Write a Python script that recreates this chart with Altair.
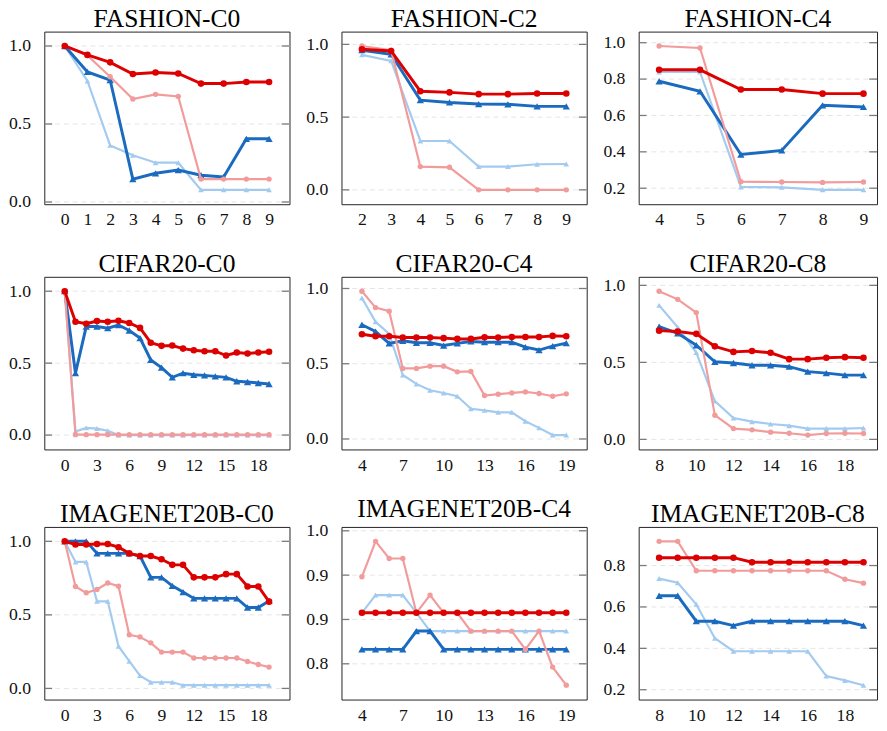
import altair as alt
import pandas as pd

# ---------------- data ----------------
titles = ["FASHION-C0", "FASHION-C2", "FASHION-C4",
          "CIFAR20-C0", "CIFAR20-C4", "CIFAR20-C8",
          "IMAGENET20B-C0", "IMAGENET20B-C4", "IMAGENET20B-C8"]

fashion_c0_x = list(range(0, 10))
fashion_c0_red = [1.0, 0.943, 0.895, 0.82, 0.83, 0.824, 0.759, 0.759, 0.769, 0.769]
fashion_c0_lred = [1.0, 0.94, 0.803, 0.66, 0.69, 0.677, 0.147, 0.147, 0.147, 0.147]
fashion_c0_blue = [1.0, 0.834, 0.782, 0.147, 0.184, 0.205, 0.172, 0.161, 0.405, 0.405]
fashion_c0_lblue = [1.0, 0.776, 0.363, 0.30, 0.252, 0.252, 0.078, 0.078, 0.078, 0.078]

fashion_c2_x = list(range(2, 10))
fashion_c2_red = [0.966, 0.955, 0.678, 0.67, 0.658, 0.658, 0.662, 0.662]
fashion_c2_lred = [0.989, 0.96, 0.16, 0.155, 0.0, 0.0, 0.0, 0.0]
fashion_c2_blue = [0.96, 0.932, 0.617, 0.601, 0.59, 0.588, 0.574, 0.574]
fashion_c2_lblue = [0.928, 0.887, 0.336, 0.336, 0.16, 0.16, 0.176, 0.178]

fashion_c4_x = list(range(4, 10))
fashion_c4_red = [0.851, 0.851, 0.743, 0.743, 0.72, 0.72]
fashion_c4_lred = [0.982, 0.971, 0.236, 0.234, 0.232, 0.234]
fashion_c4_blue = [0.788, 0.733, 0.385, 0.408, 0.656, 0.647]
fashion_c4_lblue = [0.839, 0.839, 0.207, 0.205, 0.191, 0.191]

cifar_c0_x = list(range(0, 20))
cifar_c0_red = [1.0, 0.788, 0.774, 0.793, 0.788, 0.795, 0.779, 0.745, 0.642, 0.62,
                0.622, 0.601, 0.59, 0.583, 0.583, 0.553, 0.574, 0.567, 0.574, 0.579]
cifar_c0_lred = [1.0, 0.003, 0.003, 0.003, 0.003, 0.003, 0.003, 0.003, 0.003, 0.003,
                 0.003, 0.003, 0.003, 0.003, 0.003, 0.003, 0.003, 0.003, 0.003, 0.003]
cifar_c0_blue = [1.0, 0.43, 0.754, 0.754, 0.743, 0.765, 0.727, 0.674, 0.522, 0.469,
                 0.401, 0.43, 0.419, 0.415, 0.408, 0.401, 0.374, 0.369, 0.362, 0.355]
cifar_c0_lblue = [1.0, 0.025, 0.05, 0.045, 0.03, 0.0, 0.0, 0.0, 0.0, 0.0,
                  0.0, 0.0, 0.0, 0.0, 0.0, 0.0, 0.0, 0.0, 0.0, 0.0]

cifar_c4_x = list(range(4, 20))
cifar_c4_red = [0.696, 0.683, 0.683, 0.674, 0.674, 0.674, 0.67, 0.665, 0.665, 0.676,
                0.674, 0.678, 0.678, 0.678, 0.685, 0.683]
cifar_c4_lred = [0.982, 0.873, 0.849, 0.469, 0.469, 0.484, 0.484, 0.446, 0.449, 0.289,
                 0.298, 0.306, 0.313, 0.302, 0.284, 0.3]
cifar_c4_blue = [0.759, 0.714, 0.635, 0.652, 0.639, 0.639, 0.621, 0.635, 0.648, 0.643,
                 0.643, 0.643, 0.61, 0.591, 0.617, 0.637]
cifar_c4_lblue = [0.937, 0.779, 0.698, 0.425, 0.366, 0.324, 0.306, 0.284, 0.201, 0.19,
                  0.177, 0.177, 0.118, 0.074, 0.026, 0.026]

cifar_c8_x = list(range(8, 20))
cifar_c8_red = [0.706, 0.7, 0.685, 0.604, 0.568, 0.574, 0.562, 0.521, 0.521, 0.53, 0.534, 0.53]
cifar_c8_lred = [0.962, 0.909, 0.823, 0.157, 0.07, 0.062, 0.047, 0.04, 0.028, 0.038, 0.04, 0.038]
cifar_c8_blue = [0.732, 0.689, 0.611, 0.504, 0.496, 0.481, 0.481, 0.472, 0.44, 0.43, 0.417, 0.417]
cifar_c8_lblue = [0.87, 0.728, 0.564, 0.249, 0.138, 0.115, 0.1, 0.089, 0.07, 0.07, 0.07, 0.074]

imagenet_c0_x = list(range(0, 20))
imagenet_c0_red = [1.0, 0.978, 0.978, 0.982, 0.982, 0.96, 0.918, 0.9, 0.9, 0.878,
                   0.84, 0.84, 0.755, 0.755, 0.755, 0.777, 0.777, 0.693, 0.693, 0.59]
imagenet_c0_lred = [1.0, 0.693, 0.65, 0.673, 0.717, 0.695, 0.365, 0.35, 0.31, 0.247,
                    0.247, 0.247, 0.207, 0.207, 0.207, 0.207, 0.207, 0.183, 0.163, 0.145]
imagenet_c0_blue = [1.0, 1.0, 1.0, 0.918, 0.918, 0.918, 0.918, 0.9, 0.755, 0.755,
                    0.697, 0.655, 0.612, 0.612, 0.612, 0.612, 0.612, 0.55, 0.55, 0.595]
imagenet_c0_lblue = [1.0, 0.86, 0.86, 0.592, 0.592, 0.287, 0.185, 0.087, 0.042, 0.042,
                     0.042, 0.022, 0.022, 0.022, 0.022, 0.022, 0.022, 0.022, 0.022, 0.022]

imagenet_c4_x = list(range(4, 20))
imagenet_c4_red = [0.886, 0.886, 0.886, 0.886, 0.886, 0.886, 0.886, 0.886, 0.886, 0.886,
                   0.886, 0.886, 0.886, 0.886, 0.886, 0.886]
imagenet_c4_lred = [0.9185, 0.9505, 0.935, 0.935, 0.886, 0.902, 0.886, 0.886, 0.8695, 0.8695,
                    0.8695, 0.8695, 0.853, 0.8695, 0.837, 0.8207]
imagenet_c4_blue = [0.853, 0.853, 0.853, 0.853, 0.8695, 0.8695, 0.853, 0.853, 0.853, 0.853,
                    0.853, 0.853, 0.853, 0.853, 0.853, 0.853]
imagenet_c4_lblue = [0.886, 0.902, 0.902, 0.902, 0.886, 0.8695, 0.8695, 0.8695, 0.8695, 0.8695,
                     0.8695, 0.8695, 0.8695, 0.8695, 0.8695, 0.8695]

imagenet_c8_x = list(range(8, 20))
imagenet_c8_red = [0.838, 0.838, 0.838, 0.838, 0.838, 0.816, 0.816, 0.816, 0.816, 0.816, 0.816, 0.816]
imagenet_c8_lred = [0.917, 0.917, 0.775, 0.775, 0.775, 0.775, 0.775, 0.775, 0.775, 0.775, 0.734, 0.715]
imagenet_c8_blue = [0.654, 0.654, 0.531, 0.531, 0.51, 0.531, 0.531, 0.531, 0.531, 0.531, 0.531, 0.51]
imagenet_c8_lblue = [0.737, 0.717, 0.613, 0.449, 0.386, 0.386, 0.386, 0.386, 0.386, 0.266, 0.245, 0.222]

x_ticks = [list(range(0, 10)), list(range(2, 10)), list(range(4, 10)),
           [0, 3, 6, 9, 12, 15, 18], [4, 7, 10, 13, 16, 19], [8, 10, 12, 14, 16, 18],
           [0, 3, 6, 9, 12, 15, 18], [4, 7, 10, 13, 16, 19], [8, 10, 12, 14, 16, 18]]
y_ticks = [[0.0, 0.5, 1.0], [0.0, 0.5, 1.0], [0.2, 0.4, 0.6, 0.8, 1.0],
           [0.0, 0.5, 1.0], [0.0, 0.5, 1.0], [0.0, 0.5, 1.0],
           [0.0, 0.5, 1.0], [0.84, 0.88, 0.92, 0.96], [0.2, 0.4, 0.6, 0.8]]

panels_data = [
    (fashion_c0_x, fashion_c0_lblue, fashion_c0_blue, fashion_c0_lred, fashion_c0_red),
    (fashion_c2_x, fashion_c2_lblue, fashion_c2_blue, fashion_c2_lred, fashion_c2_red),
    (fashion_c4_x, fashion_c4_lblue, fashion_c4_blue, fashion_c4_lred, fashion_c4_red),
    (cifar_c0_x, cifar_c0_lblue, cifar_c0_blue, cifar_c0_lred, cifar_c0_red),
    (cifar_c4_x, cifar_c4_lblue, cifar_c4_blue, cifar_c4_lred, cifar_c4_red),
    (cifar_c8_x, cifar_c8_lblue, cifar_c8_blue, cifar_c8_lred, cifar_c8_red),
    (imagenet_c0_x, imagenet_c0_lblue, imagenet_c0_blue, imagenet_c0_lred, imagenet_c0_red),
    (imagenet_c4_x, imagenet_c4_lblue, imagenet_c4_blue, imagenet_c4_lred, imagenet_c4_red),
    (imagenet_c8_x, imagenet_c8_lblue, imagenet_c8_blue, imagenet_c8_lred, imagenet_c8_red),
]

# style per series: (color, stroke width, shape, size) drawn bottom -> top
styles = [
    ("#a3cbf0", 2.2, "triangle-up", 34),
    ("#1a6bbf", 3.0, "triangle-up", 55),
    ("#f29b9b", 2.2, "circle", 30),
    ("#dd0000", 3.0, "circle", 45),
]

FONT = "Liberation Serif"
FULL_W = 250
H = 176
TICK = 8


def panel(i, width):
    xs = panels_data[i][0]
    series = panels_data[i][1:]
    allv = [v for s in series for v in s]
    lo, hi = min(allv), max(allv)
    r = hi - lo
    ydom = [lo - 0.1 * r, hi + 0.1 * r]
    xr = xs[-1] - xs[0]
    xdom = [xs[0] - 0.1 * xr, xs[-1] + 0.1 * xr]
    xdom[1] = xdom[0] + (xdom[1] - xdom[0]) * width / FULL_W
    xsc = alt.Scale(domain=xdom, nice=False, zero=False)
    ysc = alt.Scale(domain=ydom, nice=False, zero=False)
    xaxis = alt.Axis(values=x_ticks[i], ticks=False, grid=False, domain=False,
                     labelPadding=7, title=None, format="d", labelFlush=False,
                     labelFont=FONT, labelFontSize=18, labelColor="#111")
    yaxis = alt.Axis(values=y_ticks[i], ticks=False, grid=False, domain=False,
                     labelPadding=14, title=None, format=".1f",
                     labelFont=FONT, labelFontSize=18, labelColor="#111")

    tdf = pd.DataFrame({"t": y_ticks[i]})
    base_t = alt.Chart(tdf)
    grid = base_t.mark_rule(color="#e4e4e4", strokeDash=[5, 4], strokeWidth=1).encode(
        y=alt.Y("t:Q", scale=ysc, axis=yaxis))
    tl = base_t.mark_rule(color="#7a7a7a", strokeWidth=1.3).encode(
        x=alt.value(0), x2=alt.value(TICK), y=alt.Y("t:Q", scale=ysc, axis=yaxis))
    tr = base_t.mark_rule(color="#7a7a7a", strokeWidth=1.3).encode(
        x=alt.value(width - TICK), x2=alt.value(width), y=alt.Y("t:Q", scale=ysc, axis=yaxis))

    layers = [grid, tl, tr]
    for s, (col, sw, shape, size) in zip(series, styles):
        df = pd.DataFrame({"x": xs, "y": s})
        ln = alt.Chart(df).mark_line(
            color=col, strokeWidth=sw,
            point=alt.OverlayMarkDef(shape=shape, size=size, filled=True, color=col, opacity=1),
        ).encode(
            x=alt.X("x:Q", scale=xsc, axis=xaxis),
            y=alt.Y("y:Q", scale=ysc, axis=yaxis),
        )
        layers.append(ln)
    return alt.layer(*layers).properties(
        width=width, height=H,
        title=alt.TitleParams(titles[i], fontSize=26, font=FONT, fontWeight="normal",
                              color="#000", offset=0, anchor="middle", frame="group"),
    )


charts = []
for i in range(9):
    w = FULL_W if i % 3 != 2 else 243
    charts.append(panel(i, w))

chart = alt.concat(*charts, columns=3, spacing={"row": 21, "column": 14}).properties(
    padding={"left": 0, "top": -10, "right": 0, "bottom": 0}
).configure(font=FONT).configure_view(
    stroke="#222", strokeWidth=1
)

chart.save("out.html", embed_options={"renderer": "svg", "actions": False})
